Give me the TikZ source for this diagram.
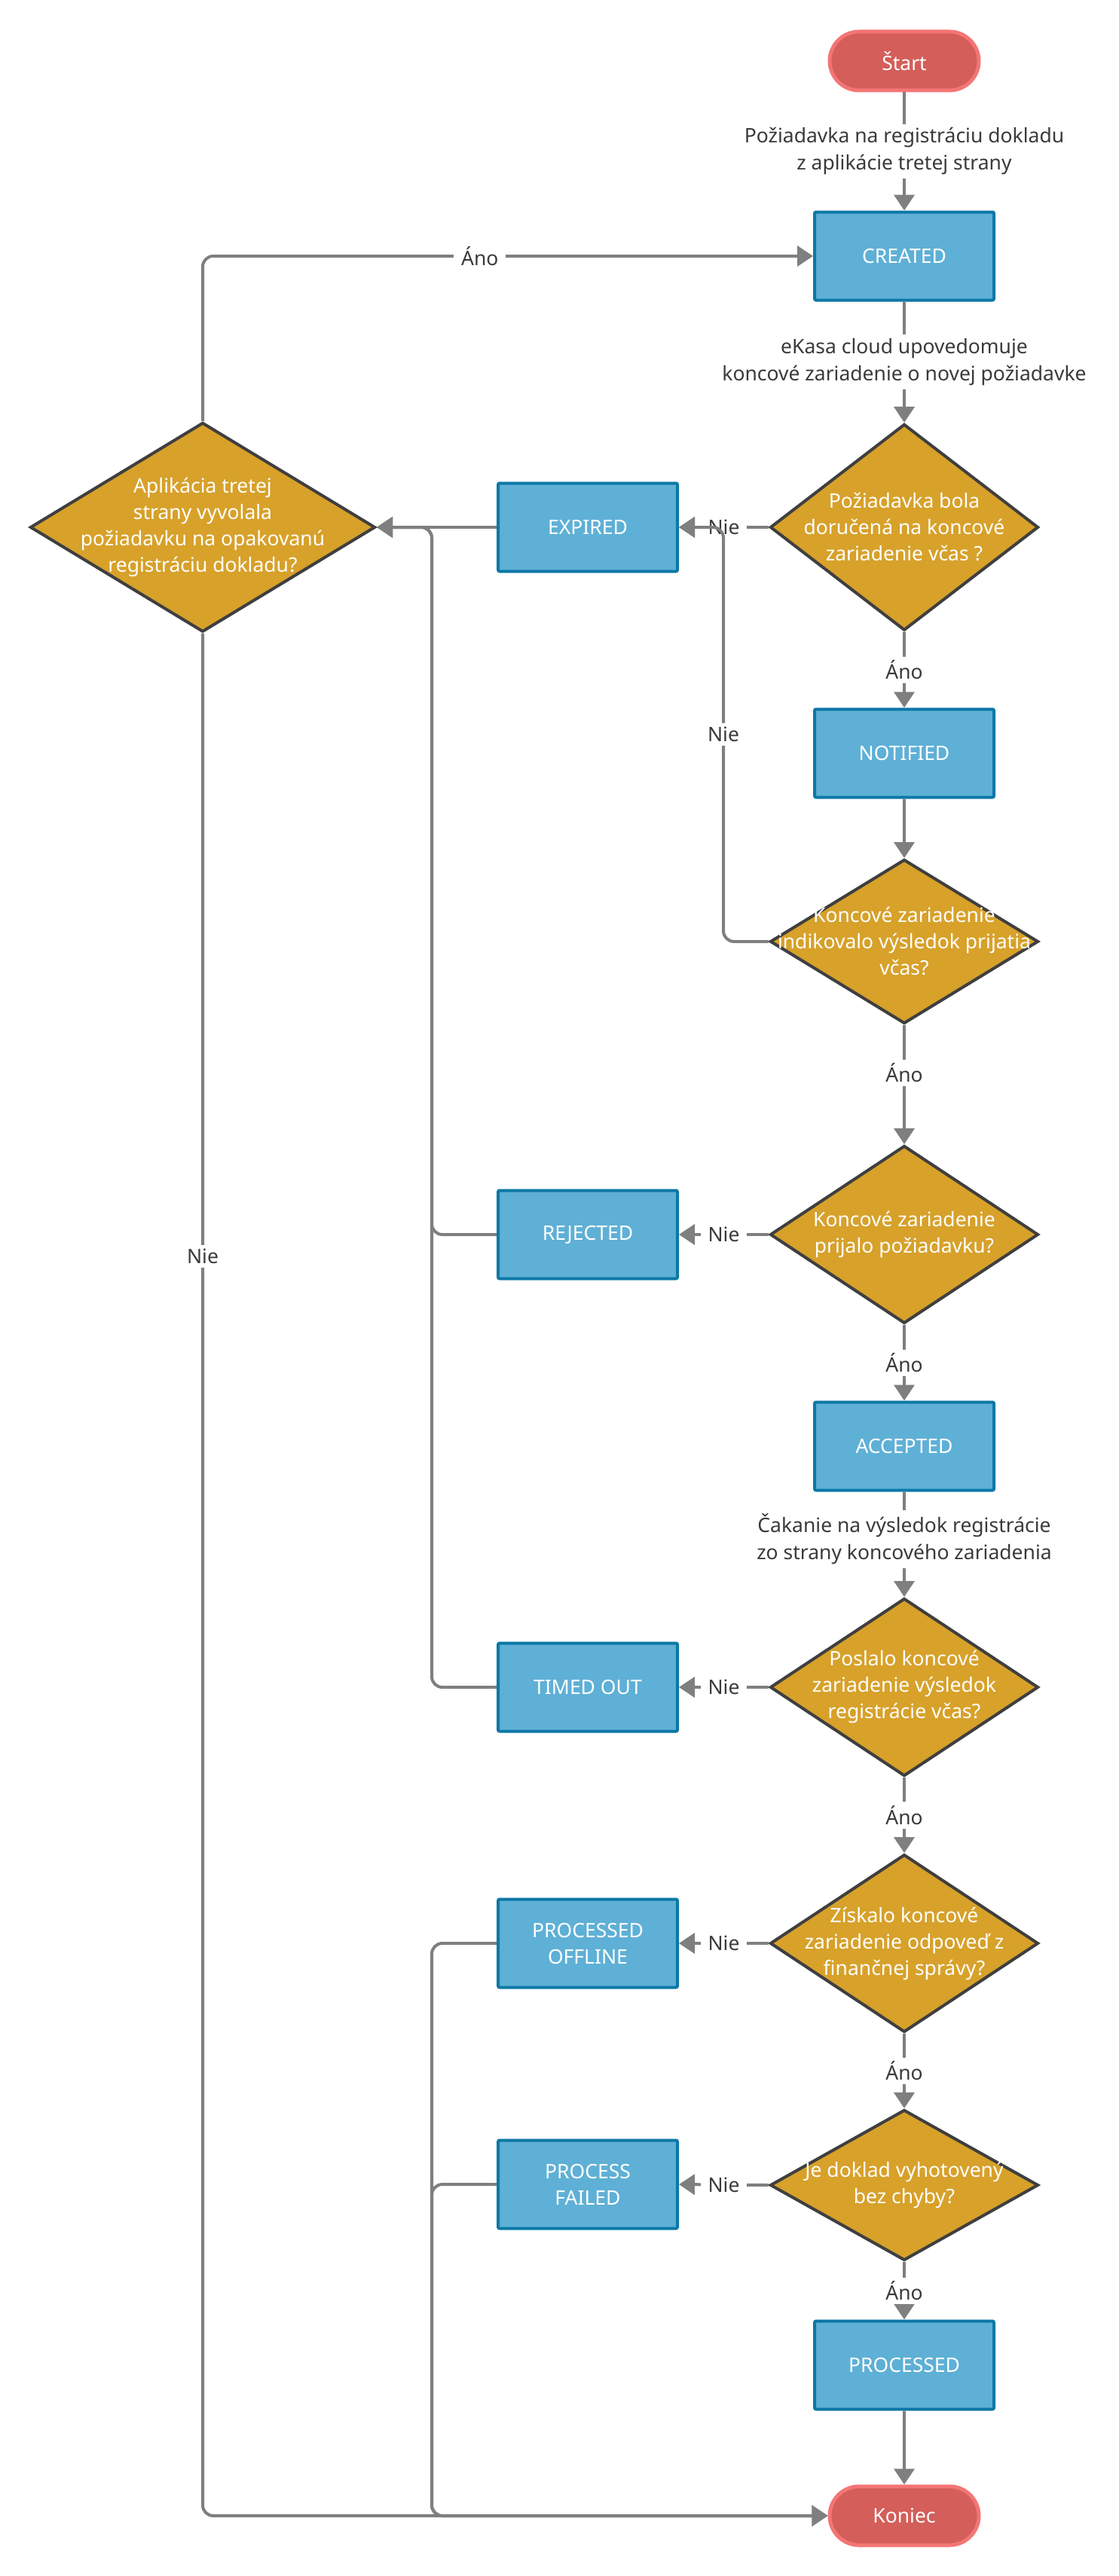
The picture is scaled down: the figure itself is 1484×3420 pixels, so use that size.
\documentclass[tikz,border=0pt]{standalone}
\usepackage{fontspec}
\setmainfont{Noto Sans}
\usetikzlibrary{shapes.geometric,arrows.meta,calc}
\definecolor{linegray}{HTML}{7F7F7F}
\definecolor{labeltext}{HTML}{3A3A3A}
\definecolor{boxfill}{HTML}{5FB0D6}
\definecolor{boxborder}{HTML}{0C78A6}
\definecolor{diafill}{HTML}{D7A12A}
\definecolor{diaborder}{HTML}{3F3F3F}
\definecolor{termfill}{HTML}{D35E5A}
\definecolor{termborder}{HTML}{F47575}
\newcommand{\nodefont}{\fontsize{26.5pt}{35pt}\selectfont}
\newcommand{\lblfont}{\fontsize{26.5pt}{36pt}\selectfont}
\tikzset{
  conn/.style={draw=linegray, line width=4pt, rounded corners=14pt,
               -{Triangle[length=21pt,width=27pt]}},
  lbl/.style={fill=white, text=labeltext, font=\lblfont, inner xsep=10pt,
              inner ysep=5pt, align=center, rounded corners=0pt},
  stbox/.style={rectangle, draw=boxborder, fill=boxfill, line width=4pt,
                minimum width=238pt, minimum height=117pt, text=white,
                font=\nodefont, align=center, rounded corners=2pt},
  dia/.style={diamond, draw=diaborder, fill=diafill, line width=4pt, inner sep=0pt},
  diatext/.style={text=white, font=\nodefont, align=center},
  term/.style={rectangle, rounded corners=39pt, draw=termborder, fill=termfill,
               line width=5pt, minimum width=198pt, minimum height=78pt,
               text=white, font=\nodefont}
}
\begin{document}
\begin{tikzpicture}[x=1pt,y=-1pt]
\useasboundingbox (0,0) rectangle (1484,3420);

% main column
\node[term] (start) at (1200,81) {Štart};
\node[stbox] (created) at (1200,340) {CREATED};
\node[dia, minimum width=356pt, minimum height=274pt] (d1) at (1200,700) {};
\node[diatext] at (d1) {Požiadavka bola\\doručená na koncové\\zariadenie včas ?};
\node[stbox] (notified) at (1200,1000) {NOTIFIED};
\node[dia, minimum width=356pt, minimum height=218pt] (d2) at (1200,1250) {};
\node[diatext] at (d2) {Koncové zariadenie\\indikovalo výsledok prijatia\\včas?};
\node[dia, minimum width=356pt, minimum height=236pt] (d3) at (1200,1639) {};
\node[diatext] at (d3) {Koncové zariadenie\\prijalo požiadavku?};
\node[stbox] (accepted) at (1200,1920) {ACCEPTED};
\node[dia, minimum width=356pt, minimum height=236pt] (d4) at (1200,2240) {};
\node[diatext] at (d4) {Poslalo koncové\\zariadenie výsledok\\registrácie včas?};
\node[dia, minimum width=356pt, minimum height=236pt] (d5) at (1200,2580) {};
\node[diatext] at (d5) {Získalo koncové\\zariadenie odpoveď z\\finančnej správy?};
\node[dia, minimum width=356pt, minimum height=200pt] (d6) at (1200,2901) {};
\node[diatext] at (d6) {Je doklad vyhotovený\\bez chyby?};
\node[stbox] (processed) at (1200,3140) {PROCESSED};
\node[term] (koniec) at (1200,3340) {Koniec};

% side column
\node[stbox] (expired) at (780,700) {EXPIRED};
\node[stbox] (rejected) at (780,1639) {REJECTED};
\node[stbox] (timedout) at (780,2240) {TIMED OUT};
\node[stbox] (poffline) at (780,2580) {PROCESSED\\OFFLINE};
\node[stbox] (pfailed) at (780,2900) {PROCESS\\FAILED};

% left decision
\node[dia, minimum width=458pt, minimum height=278pt] (d0) at (269,700) {};
\node[diatext] at (d0) {Aplikácia tretej\\strany vyvolala\\požiadavku na opakovanú\\registráciu dokladu?};

% junction coordinates
\coordinate (jr) at (960,700);
\coordinate (jl) at (573,700);
\coordinate (jb) at (573,3340);

% main flow
\draw[conn] (start) -- node[lbl]{Požiadavka na registráciu dokladu\\z aplikácie tretej strany} (created);
\draw[conn] (created) -- node[lbl]{eKasa cloud upovedomuje\\koncové zariadenie o novej požiadavke} (d1);
\draw[conn] (d1.west) -- node[lbl]{Nie} (expired.east);
\draw[conn] (d1.south) -- node[lbl]{Áno} (notified.north);
\draw[conn] (notified) -- (d2.north);
\draw[conn] (d2.west) -- (d2.west -| jr) -- node[lbl]{Nie} (jr) -- (expired.east);
\draw[conn] (d2.south) -- node[lbl,pos=0.4]{Áno} (d3.north);
\draw[conn] (d3.west) -- node[lbl]{Nie} (rejected.east);
\draw[conn] (d3.south) -- node[lbl]{Áno} (accepted.north);
\draw[conn] (accepted) -- node[lbl,pos=0.45]{Čakanie na výsledok registrácie\\zo strany koncového zariadenia} (d4.north);
\draw[conn] (d4.west) -- node[lbl]{Nie} (timedout.east);
\draw[conn] (d4.south) -- node[lbl]{Áno} (d5.north);
\draw[conn] (d5.west) -- node[lbl]{Nie} (poffline.east);
\draw[conn] (d5.south) -- node[lbl]{Áno} (d6.north);
\draw[conn] (d6.west) -- node[lbl]{Nie} (pfailed.east);
\draw[conn] (d6.south) -- node[lbl]{Áno} (processed.north);
\draw[conn] (processed) -- (koniec.north);

% returns to left decision
\draw[conn] (expired.west) -- (d0.east);
\draw[conn] (rejected.west) -- (rejected.west -| jl) -- (jl) -- (d0.east);
\draw[conn] (timedout.west) -- (timedout.west -| jl) -- (jl) -- (d0.east);

% to end
\draw[conn] (poffline.west) -- (poffline.west -| jb) -- (jb) -- (koniec.west);
\draw[conn] (pfailed.west) -- (pfailed.west -| jb) -- (jb) -- (koniec.west);
\draw[conn] (d0.south) -- node[lbl,pos=0.331]{Nie} (d0.south |- koniec.west) -- (koniec.west);
\draw[conn] (d0.north) -- (d0.north |- created.west) -- node[lbl,pos=0.454]{Áno} (created.west);
\end{tikzpicture}
\end{document}
